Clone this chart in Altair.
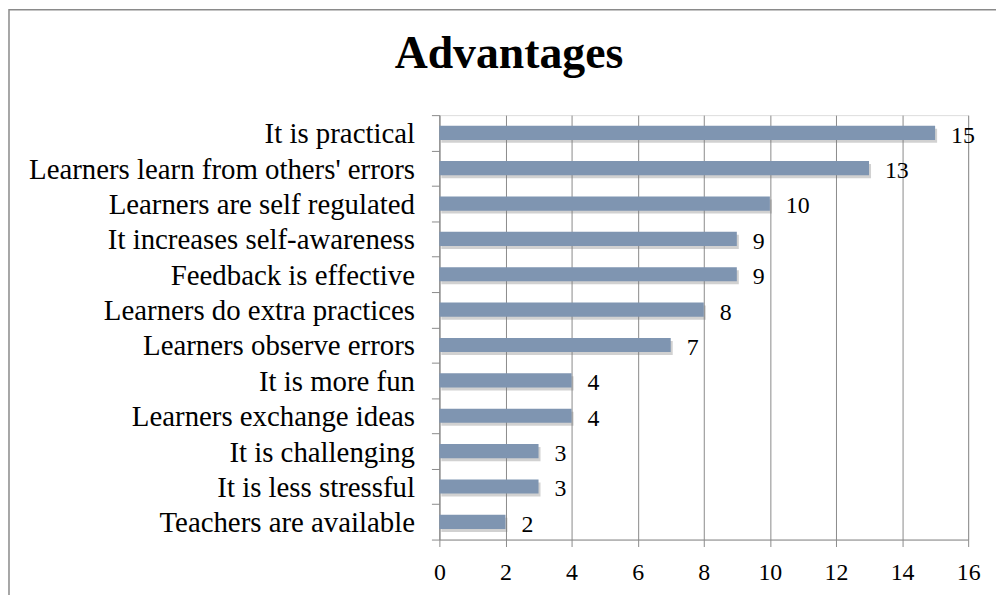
import altair as alt
import pandas as pd

categories = [
    "It is practical",
    "Learners learn from others' errors",
    "Learners are self regulated",
    "It increases self-awareness",
    "Feedback is effective",
    "Learners do extra practices",
    "Learners observe errors",
    "It is more fun",
    "Learners exchange ideas",
    "It is challenging",
    "It is less stressful",
    "Teachers are available",
]
counts = [15, 13, 10, 9, 9, 8, 7, 4, 4, 3, 3, 2]
x_ticks = [0, 2, 4, 6, 8, 10, 12, 14, 16]
title_text = "Advantages"

df = pd.DataFrame({"category": categories, "count": counts})

FONT = "Liberation Serif"
GRAY = "#8a8a8a"
W, H = 532, 427

xscale = alt.Scale(domain=[0, 16], nice=False)
yscale = alt.Scale(domain=categories, paddingInner=0, paddingOuter=0)

x_axis = alt.Axis(
    values=x_ticks, grid=True, gridColor=GRAY, gridWidth=1, domainColor=GRAY,
    tickColor=GRAY, tickSize=7, labelFont=FONT, labelFontSize=24,
    labelColor="black", labelBaseline="alphabetic", labelPadding=33, title=None,
    labelFlush=False, labelOverlap=False,
)
y_axis = alt.Axis(
    title=None, tickBand="extent", tickSize=8, tickColor=GRAY, domainColor=GRAY,
    labelFont=FONT, labelFontSize=29, labelColor="black", labelPadding=17,
    labelBaseline="alphabetic", labelOffset=10, labelLimit=0,
)

X = alt.X("count:Q", scale=xscale, axis=x_axis)
Y = alt.Y("category:N", sort=categories, scale=yscale, axis=y_axis)

base = alt.Chart(df)

frame = alt.Chart(pd.DataFrame({"f": [0]})).mark_rect(
    filled=False, stroke=GRAY, strokeWidth=1.5
).encode(
    x=alt.value(-433), x2=alt.value(800), y=alt.value(-106), y2=alt.value(800)
)

title = alt.Chart(pd.DataFrame({"t": [title_text]})).mark_text(
    font=FONT, fontSize=46, fontWeight="bold", color="black",
    align="center", baseline="alphabetic",
).encode(x=alt.value(70), y=alt.value(-47), text="t:N")

shadow = base.mark_bar(
    color="#7a7a7a", opacity=0.35, xOffset=2, yOffset=3, height=alt.RelativeBandSize(0.4)
).encode(x=X, y=Y)

bars = base.mark_bar(color="#7F95B1", height=alt.RelativeBandSize(0.4)).encode(x=X, y=Y)

labels = base.mark_text(
    align="left", baseline="alphabetic", dx=16, dy=10, font=FONT, fontSize=24, color="black"
).encode(x=X, y=Y, text="count:Q")

chart = alt.layer(frame, title, shadow, bars, labels).properties(
    width=W, height=H,
    autosize=alt.AutoSizeParams(type="none"),
    padding={"left": 434, "top": 106, "right": 28, "bottom": 54},
).configure_view(stroke=None).configure(background="white")

chart.save("out.html", embed_options={"renderer": "svg", "actions": False})
